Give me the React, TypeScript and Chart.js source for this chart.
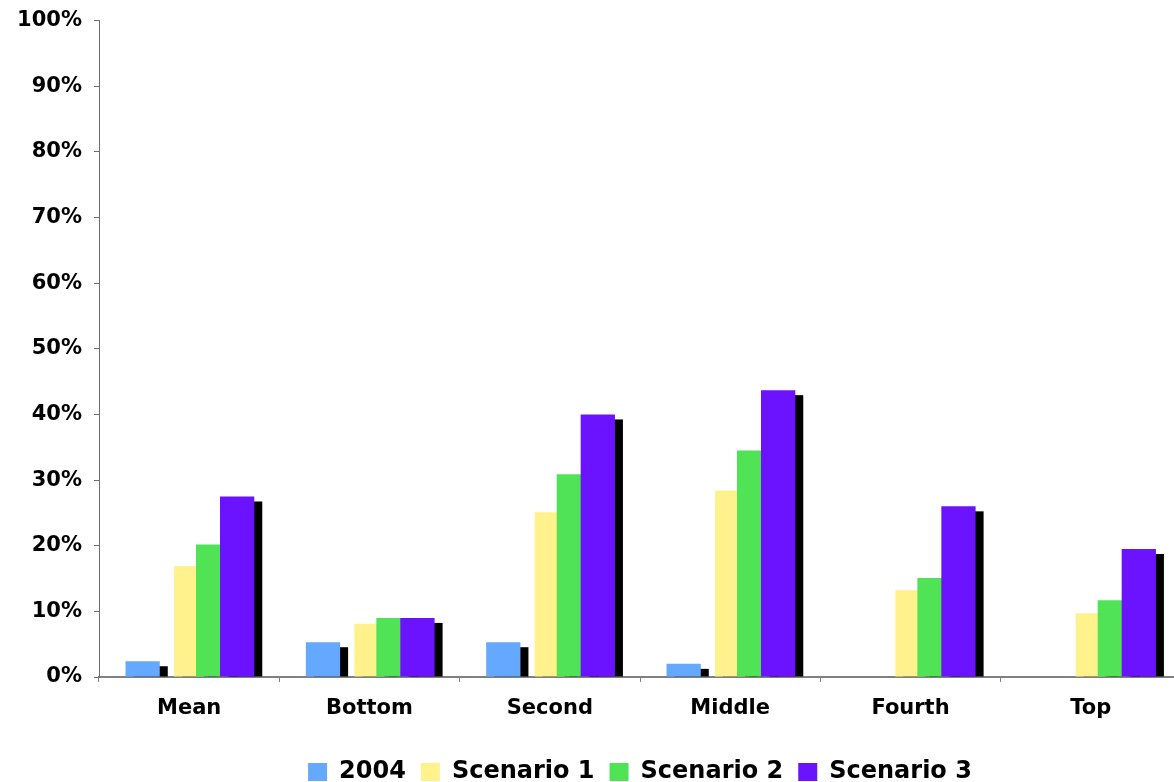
import React, { useEffect, useRef } from "react";
import { Chart, registerables } from "chart.js";

Chart.register(...registerables);

const categories = ["Mean", "Bottom", "Second", "Middle", "Fourth", "Top"];
const series2004 = [2.4, 5.3, 5.3, 2.0, 0, 0];
const scenario1 = [16.9, 8.1, 25.1, 28.4, 13.2, 9.7];
const scenario2 = [20.2, 9.0, 30.9, 34.5, 15.1, 11.7];
const scenario3 = [27.5, 9.0, 40.0, 43.7, 26.0, 19.5];
const yTicks = [0, 10, 20, 30, 40, 50, 60, 70, 80, 90, 100];

const seriesNames = ["2004", "Scenario 1", "Scenario 2", "Scenario 3"];
const seriesColors = ["#64A9FF", "#FFF28C", "#50E356", "#6B12FF"];
// horizontal shift of each series, as fraction of category width
const seriesShift = [-0.258, 0.011, 0.133, 0.266];

const FONT = "'DejaVu Sans', Verdana, sans-serif";

const shiftPlugin = {
  id: "shiftBars",
  afterDatasetsUpdate(chart: any) {
    const xs = chart.scales.x;
    const catW = xs.width / categories.length;
    chart.data.datasets.forEach((_d: any, i: number) => {
      const meta = chart.getDatasetMeta(i);
      meta.data.forEach((el: any) => {
        el.x = el.x + seriesShift[i] * catW;
      });
    });
  },
  beforeDatasetDraw(chart: any, args: any) {
    const ctx = chart.ctx;
    ctx.save();
    ctx.fillStyle = "#000000";
    args.meta.data.forEach((el: any) => {
      const w = el.width;
      const left = el.x - w / 2 + 8;
      const top = el.y + 5;
      const bottom = el.base;
      if (bottom - top > 0) {
        ctx.fillRect(left, top, w, bottom - top);
      }
    });
    ctx.restore();
  },
};

export default function App() {
  const ref = useRef<HTMLCanvasElement | null>(null);

  useEffect(() => {
    if (!ref.current) return;
    const data = [series2004, scenario1, scenario2, scenario3];
    const chart = new Chart(ref.current, {
      type: "bar",
      data: {
        labels: categories,
        datasets: data.map((d, i) => ({
          label: seriesNames[i],
          data: d,
          backgroundColor: seriesColors[i],
          borderWidth: 0,
          grouped: false,
          order: 4 - i,
          categoryPercentage: 1,
          barPercentage: 0.19,
        })),
      },
      options: {
        responsive: false,
        animation: false,
        layout: { padding: { top: 4.5, right: 99, left: 0, bottom: 0 } },
        plugins: {
          tooltip: { enabled: false },
          legend: {
            position: "bottom",
            fullSize: false,
            labels: {
              boxWidth: 19,
              boxHeight: 18,
              padding: 15,
              color: "#000000",
              font: { family: FONT, size: 24, weight: "bold" },
              sort: (a: any, b: any) => a.datasetIndex - b.datasetIndex,
            },
          },
        },
        scales: {
          x: {
            z: 1,
            grid: {
              display: true,
              drawOnChartArea: false,
              drawTicks: true,
              tickLength: 5,
              color: "#808080",
              offset: true,
            },
            border: { display: true, color: "#808080", width: 2 },
            ticks: {
              color: "#000000",
              padding: 14,
              font: { family: FONT, size: 21, weight: "bold" },
            },
            afterFit: (s: any) => {
              s.height = 68;
            },
          },
          y: {
            min: 0,
            max: 100,
            afterBuildTicks: (s: any) => {
              s.ticks = yTicks.map((v) => ({ value: v }));
            },
            grid: {
              display: true,
              drawOnChartArea: false,
              drawTicks: true,
              tickLength: 5,
              color: "#6e6e6e",
            },
            border: { display: true, color: "#6e6e6e", width: 1 },
            ticks: {
              color: "#000000",
              padding: 12,
              font: { family: FONT, size: 21, weight: "bold" },
              callback: (v: any) => v + "%",
            },
            afterFit: (s: any) => {
              s.width = 99;
            },
          },
        },
      },
      plugins: [shiftPlugin],
    });
    return () => chart.destroy();
  }, []);

  return (
    <div style={{ position: "fixed", left: 0, top: -4, width: 1280, height: 798, background: "#ffffff" }}>
      <canvas ref={ref} width={1280} height={798} style={{ display: "block" }} />
    </div>
  );
}
